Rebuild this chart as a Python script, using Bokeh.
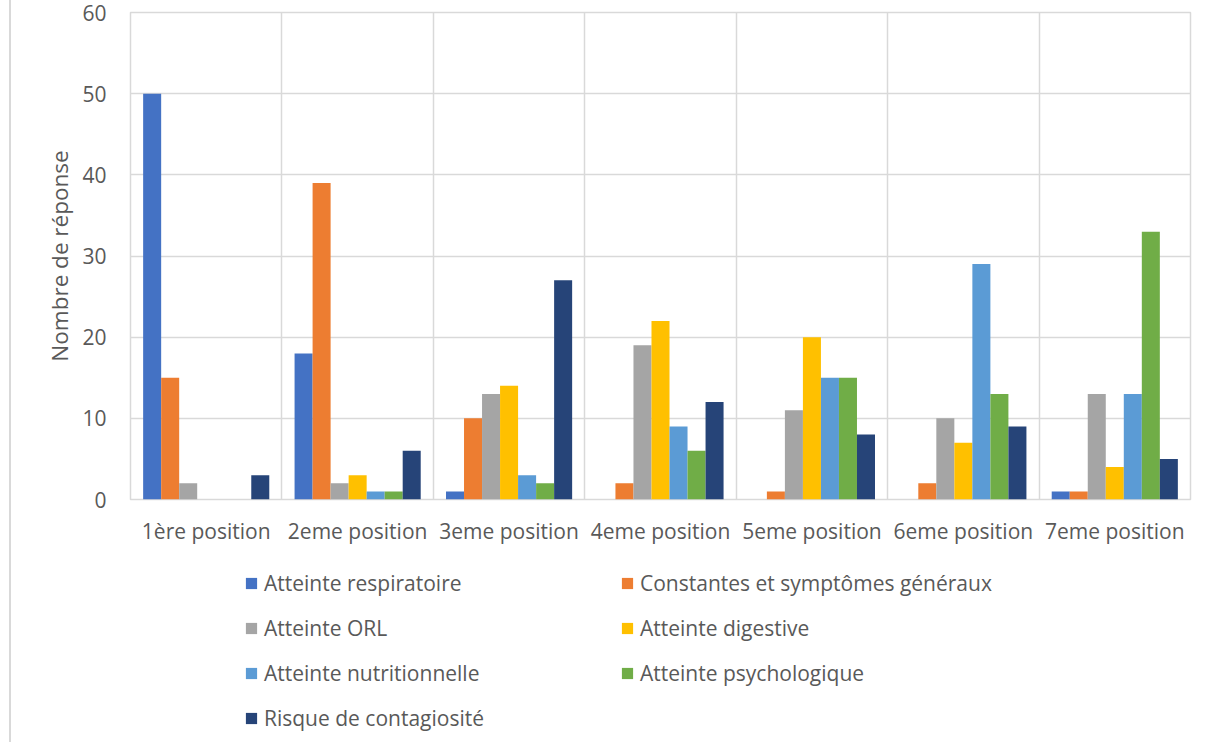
from bokeh.plotting import figure
from bokeh.layouts import column
from bokeh.models import FactorRange, Range1d, FixedTicker, Legend, LegendItem, ColumnDataSource
from bokeh.transform import dodge
from bokeh.embed import file_html
from bokeh.resources import INLINE

categories = ["1ère position", "2eme position", "3eme position", "4eme position",
              "5eme position", "6eme position", "7eme position"]
series_names = ["Atteinte respiratoire", "Constantes et symptômes généraux", "Atteinte ORL",
                "Atteinte digestive", "Atteinte nutritionnelle", "Atteinte psychologique",
                "Risque de contagiosité"]
respiratoire = [50, 18, 1, 0, 0, 0, 1]
constantes = [15, 39, 10, 2, 1, 2, 1]
orl = [2, 2, 13, 19, 11, 10, 13]
digestive = [0, 3, 14, 22, 20, 7, 4]
nutritionnelle = [0, 1, 3, 9, 15, 29, 13]
psychologique = [0, 1, 2, 6, 15, 13, 33]
contagiosite = [3, 6, 27, 12, 8, 9, 5]
y_ticks = [0, 10, 20, 30, 40, 50, 60]
colors = ["#4472C4", "#ED7D31", "#A5A5A5", "#FFC000", "#5B9BD5", "#70AD47", "#264478"]

series = [respiratoire, constantes, orl, digestive, nutritionnelle, psychologique, contagiosite]
keys = ["s%d" % i for i in range(len(series))]
data = {"cat": categories}
for k, s in zip(keys, series):
    data[k] = s
source = ColumnDataSource(data)

FONT = "Open Sans"
TXT = "#595959"
GRID = "#d9d9d9"
SIDE = {"border-left": "2px solid #d9d9d9", "margin-left": "9px"}

x_range = FactorRange(factors=categories)
p = figure(x_range=x_range, y_range=Range1d(0, 60),
           width=1197, height=550, output_backend="svg", toolbar_location=None,
           min_border_left=119, min_border_right=18, min_border_top=12, min_border_bottom=51)
p.styles = SIDE

bw = 0.119
for i, (k, c) in enumerate(zip(keys, colors)):
    p.vbar(x=dodge("cat", (i - 3) * bw, range=x_range), top=k, width=bw,
           source=source, fill_color=c, line_color=None)

p.outline_line_color = GRID
p.outline_line_width = 1.5
p.ygrid.grid_line_color = GRID
p.ygrid.grid_line_width = 1.5
p.xgrid.ticker = FixedTicker(ticks=[0, 1, 2, 3, 4, 5, 6, 7])
p.xgrid.grid_line_color = GRID
p.xgrid.grid_line_width = 1.5

p.yaxis.ticker = FixedTicker(ticks=y_ticks)
for ax in (p.xaxis[0], p.yaxis[0]):
    ax.axis_line_color = None
    ax.major_tick_line_color = None
    ax.minor_tick_line_color = None
    ax.major_label_text_font = FONT
    ax.major_label_text_color = TXT
    ax.major_label_text_font_size = "21px"
p.xaxis.major_label_standoff = 11
p.yaxis.major_label_standoff = 18
p.yaxis.axis_label = "Nombre de réponse"
p.yaxis.axis_label_text_font = FONT
p.yaxis.axis_label_text_font_style = "normal"
p.yaxis.axis_label_text_font_size = "22.5px"
p.yaxis.axis_label_text_color = TXT
p.yaxis.axis_label_standoff = 4

# legend figure (its bars lie outside its visible y range)
q = figure(x_range=x_range, y_range=Range1d(100, 200), width=1197, height=192,
           output_backend="svg", toolbar_location=None,
           min_border_left=0, min_border_right=0, min_border_top=0, min_border_bottom=0)
q.styles = SIDE
q.axis.visible = False
q.grid.visible = False
q.outline_line_color = None
renderers = []
for i, (k, c) in enumerate(zip(keys, colors)):
    r = q.vbar(x=dodge("cat", (i - 3) * bw, range=x_range), top=k, width=bw,
               source=source, fill_color=c, line_color=None)
    renderers.append(r)

items = [LegendItem(label=n, renderers=[r]) for n, r in zip(series_names, renderers)]
legend = Legend(items=items, orientation="horizontal", ncols=2, location=(114, 9.5),
                glyph_width=14, glyph_height=14, label_standoff=6, label_width=340,
                label_height=29, spacing=16, padding=0, margin=0, border_line_color=None,
                background_fill_alpha=0, label_text_font=FONT, label_text_color=TXT,
                label_text_font_size="21px")
q.add_layout(legend)

layout = column(p, q, spacing=0)
open("out.html", "w").write(file_html(layout, INLINE))
